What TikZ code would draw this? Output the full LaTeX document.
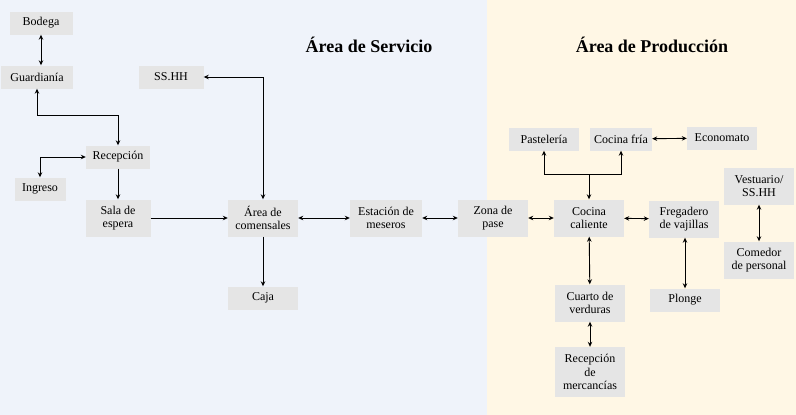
\documentclass[tikz,border=0pt]{standalone}
\usepackage{fontspec}
\setmainfont{Liberation Serif}
\usetikzlibrary{arrows.meta,calc,positioning}
\definecolor{servcol}{RGB}{239,243,250}
\definecolor{prodcol}{RGB}{255,247,229}
\definecolor{boxcol}{RGB}{229,229,229}

\begin{document}
\begin{tikzpicture}[x=1pt,y=-1pt,>={Stealth[length=5pt,width=4.5pt]},
  font=\fontsize{12}{13.5}\selectfont,
  box/.style={fill=boxcol,align=center,inner sep=0pt,minimum width=70pt,minimum height=23pt},
  twoline/.style={box,minimum height=37pt},
  link/.style={line width=0.9pt}]
  % two areas
  \fill[servcol] (0,0) rectangle (487,415);
  \fill[prodcol] (487,0) rectangle (796,415);
  \useasboundingbox (0,0) rectangle (796,415);
  \node[anchor=base,font=\bfseries\fontsize{18}{20}\selectfont] (tserv) at (369,52) {Área de Servicio};
  \node[anchor=base,font=\bfseries\fontsize{18}{20}\selectfont] (tprod) at (652,52) {Área de Producción};
  % service side
  \node[box,minimum width=63pt] (bodega) at (41,23) {Bodega};
  \node[box,minimum width=72pt] (guard) at (37,77) {Guardianía};
  \node[box,minimum width=65pt] (sshh) at (171,77) {SS.HH};
  \node[box,minimum width=64pt] (recep) at (118,157) {Recepción};
  \node[box,minimum width=51pt] (ingreso) at (40,189) {Ingreso};
  \node[twoline,minimum width=65pt] (sala) at (118,218) {Sala de\\espera};
  \node[twoline] (comens) at (263,218) {Área de\\comensales};
  \node[box] (caja) at (263,298) {Caja};
  \node[twoline,minimum width=72pt] (estac) at (386,218) {Estación de\\meseros};
  % production side
  \node[twoline] (pase) at (493,218) {Zona de\\pase};
  \node[twoline] (cocinac) at (589,218) {Cocina\\caliente};
  \node[twoline] (freg) at (684,219) {Fregadero\\de vajillas};
  \node[box] (pastel) at (544,139) {Pastelería};
  \node[box,minimum width=62pt] (cocinaf) at (621,139) {Cocina fría};
  \node[box] (econ) at (722,138) {Economato};
  \node[twoline] (vest) at (759,186) {Vestuario/\\SS.HH};
  \node[twoline] (comedor) at (759,260) {Comedor\\de personal};
  \node[box] (plonge) at (685,300) {Plonge};
  \node[twoline] (cuarto) at (590,303) {Cuarto de\\verduras};
  \node[box,minimum height=50pt] (recmerc) at (590,372) {Recepción\\de\\mercancías};
  % connectors
  \draw[link,<->] (bodega.south) -- (bodega.south |- guard.north);
  \draw[link,<->] (guard.south) -- ++(0,27) -| (recep.north);
  \draw[link,<->] (recep.west) -| (ingreso.north);
  \draw[link,->] (recep) -- (sala);
  \draw[link,->] (sala) -- (comens);
  \draw[link,<->] (sshh.east) -| (comens.north);
  \draw[link,->] (comens) -- (caja);
  \foreach \a/\b in {comens/estac,estac/pase,pase/cocinac,cocinac/freg,cocinaf/econ,vest/comedor,cocinac/cuarto,cuarto/recmerc}
    \draw[link,<->] (\a) -- (\b);
  \draw[link,<->] (freg.south -| plonge) -- (plonge.north);
  \coordinate (split) at ($(cocinac.north)+(0,-25)$);
  \draw[link,->] (split) -- (cocinac.north);
  \draw[link,<->] (pastel.south) |- (split) -| (cocinaf.south);
\end{tikzpicture}
\end{document}
